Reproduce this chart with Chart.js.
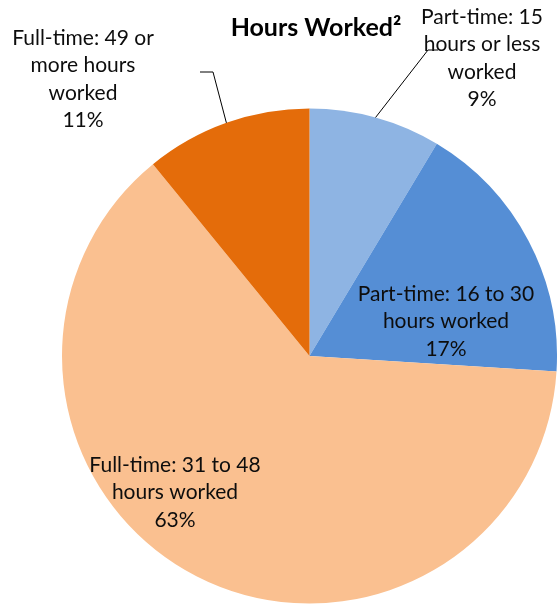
<!DOCTYPE html>
<html>
<head>
<meta charset="utf-8">
<script src="https://cdn.jsdelivr.net/npm/chart.js@4"></script>
<style>
  html, body { margin: 0; padding: 0; background: #fff; }
  #wrap { width: 558px; height: 606px; position: relative; }
</style>
</head>
<body>
<div id="wrap"><canvas id="chartCanvas" width="558" height="606"></canvas></div>
<script>
// dados do gráfico
const categorias = [
  "Part-time: 15 hours or less worked",
  "Part-time: 16 to 30 hours worked",
  "Full-time: 31 to 48 hours worked",
  "Full-time: 49 or more hours worked"
];
// fatias (rótulos mostram o valor arredondado)
const percentuais = [8.6, 17.4, 63.1, 10.9];
// linhas de texto de cada rótulo
const rotulos = [
  ["Part-time: 15", "hours or less", "worked"],
  ["Part-time: 16 to 30", "hours worked"],
  ["Full-time: 31 to 48", "hours worked"],
  ["Full-time: 49 or", "more hours", "worked"]
];
const titulo = "Hours Worked\u00B2";

const cores = ["#8EB4E3", "#558ED5", "#FAC090", "#E46C0A"];
const fonte = "Lato, 'Open Sans', sans-serif";

// posição (centro do bloco de texto) e linha de chamada de cada rótulo
const layoutRotulos = [
  { x: 482, y: 17, leader: [[428, 50], [438, 50]] },
  { x: 446, y: 294, leader: null },
  { x: 175, y: 465, leader: null },
  { x: 83, y: 38, leader: [[213, 72], [200, 72]] }
];

const rotulosPlugin = {
  id: "rotulos",
  afterDraw(chart) {
    const ctx = chart.ctx;
    const meta = chart.getDatasetMeta(0);
    ctx.save();

    // título
    ctx.fillStyle = "#000";
    ctx.font = "bold 25px " + fonte;
    ctx.textAlign = "center";
    ctx.textBaseline = "middle";
    ctx.fillText(titulo, 316, 28);

    meta.data.forEach((arc, i) => {
      const p = arc.getProps(["x", "y", "startAngle", "endAngle", "outerRadius"], true);
      const lay = layoutRotulos[i];

      // linha de chamada
      if (lay.leader) {
        const mid = (p.startAngle + p.endAngle) / 2;
        const ex = p.x + Math.cos(mid) * p.outerRadius;
        const ey = p.y + Math.sin(mid) * p.outerRadius;
        ctx.strokeStyle = "#000";
        ctx.lineWidth = 1;
        ctx.beginPath();
        ctx.moveTo(ex, ey);
        lay.leader.forEach(pt => ctx.lineTo(pt[0], pt[1]));
        ctx.stroke();
      }

      // texto
      const linhas = rotulos[i].concat([Math.round(percentuais[i]) + "%"]);
      ctx.font = "21px " + fonte;
      ctx.fillStyle = "#0D0D0D";
      const lh = 27.5;
      linhas.forEach((t, k) => {
        ctx.fillText(t, lay.x, lay.y + k * lh);
      });
    });
    ctx.restore();
  }
};

const chartCanvas = document.getElementById("chartCanvas");
const chartInstance = new Chart(chartCanvas, {
  type: "pie",
  data: {
    labels: categorias,
    datasets: [{
      data: percentuais,
      backgroundColor: cores,
      borderWidth: 0
    }]
  },
  options: {
    responsive: false,
    animation: false,
    layout: { padding: { left: 62, right: 1, top: 108, bottom: 2 } },
    plugins: {
      legend: { display: false },
      title: { display: false },
      tooltip: { enabled: false }
    }
  },
  plugins: [rotulosPlugin]
});
</script>
</body>
</html>
